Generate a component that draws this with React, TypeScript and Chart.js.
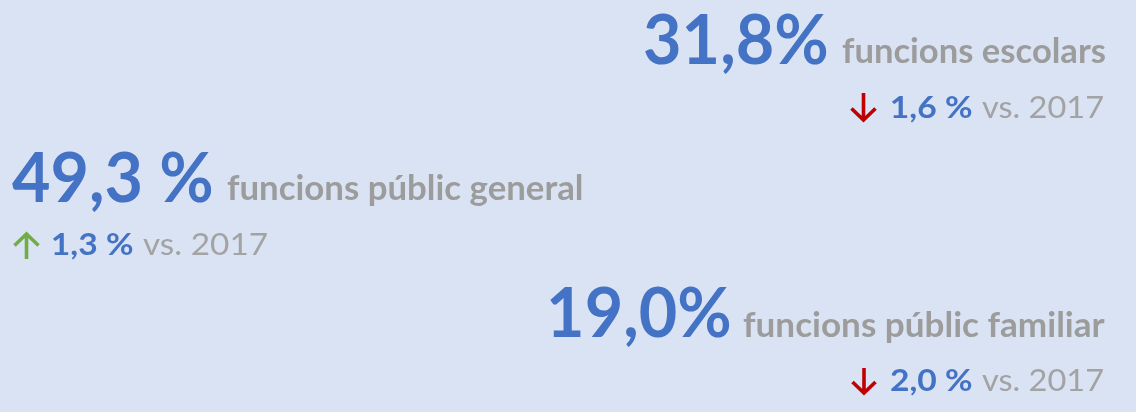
import React, { useEffect, useRef } from "react";
import { Chart, registerables } from "chart.js";

Chart.register(...registerables);

// ---- data ----
const categories = ["funcions escolars", "funcions públic general", "funcions públic familiar"];
const shares = [31.8, 49.3, 19.0];
const shareSeparators = ["", " ", ""];
const changes = [-1.6, 1.3, -2.0];
const compareYear = 2017;

// ---- layout (pixel boxes of each block) ----
const W = 1136;
const H = 412;
const BG = "#DAE3F3";
const BLUE = "#4472C4";
const GREY_B = "#9C9C9C";
const GREY_R = "#A3A3A3";
const UP = "#70AD47";
const DOWN = "#C00000";
const FONT = "Lato, 'Open Sans', sans-serif";

const layout = [
  { big: [645, 827], label: [842, 1105], base: 64, lbase: 63, arrow: [850, 877, 93, 122], chg: [892, 972], vs: [982, 1103], base2: 118 },
  { big: [12, 212], label: [227, 582], base: 202, lbase: 200, arrow: [13, 40, 232, 259], chg: [53, 133], vs: [143, 267], base2: 255 },
  { big: [550, 730], label: [743, 1105], base: 337, lbase: 337, arrow: [851, 877, 368, 395], chg: [891, 972], vs: [982, 1103], base2: 391 },
];

const fmt = (v: number) => Math.abs(v).toFixed(1).replace(".", ",");

function fitText(ctx: CanvasRenderingContext2D, text: string, font: string, left: number, right: number, baseline: number, color: string) {
  ctx.save();
  ctx.font = font;
  ctx.textAlign = "left";
  ctx.textBaseline = "alphabetic";
  const m = ctx.measureText(text);
  const inkL = -m.actualBoundingBoxLeft;
  const inkR = m.actualBoundingBoxRight;
  const sx = (right - left) / (inkR - inkL);
  ctx.translate(left - inkL * sx, baseline);
  ctx.scale(sx, 1);
  ctx.fillStyle = color;
  ctx.fillText(text, 0, 0);
  ctx.restore();
}

function drawArrow(ctx: CanvasRenderingContext2D, box: number[], up: boolean, color: string) {
  const [l, r, t, b] = box;
  const cx = (l + r) / 2;
  const head = (r - l) / 2 - 1.5;
  ctx.save();
  ctx.strokeStyle = color;
  ctx.lineWidth = 3.6;
  ctx.lineCap = "butt";
  ctx.lineJoin = "miter";
  ctx.beginPath();
  if (up) {
    ctx.moveTo(cx, b);
    ctx.lineTo(cx, t + 2);
    ctx.moveTo(l + 1.5, t + head + 1.5);
    ctx.lineTo(cx, t + 2);
    ctx.lineTo(r - 1.5, t + head + 1.5);
  } else {
    ctx.moveTo(cx, t);
    ctx.lineTo(cx, b - 2);
    ctx.moveTo(l + 1.5, b - head - 1.5);
    ctx.lineTo(cx, b - 2);
    ctx.lineTo(r - 1.5, b - head - 1.5);
  }
  ctx.stroke();
  ctx.restore();
}

const textPlugin = {
  id: "kpiText",
  afterDraw(chart: any) {
    const ctx: CanvasRenderingContext2D = chart.ctx;
    const xs = chart.scales.x;
    const ys = chart.scales.y;
    const X = (v: number) => xs.getPixelForValue(v);
    const Y = (v: number) => ys.getPixelForValue(v);
    shares.forEach((v, i) => {
      const L = layout[i];
      const bigText = fmt(v) + shareSeparators[i] + "%";
      fitText(ctx, bigText, `bold 68px ${FONT}`, X(L.big[0]), X(L.big[1]), Y(L.base), BLUE);
      fitText(ctx, categories[i], `bold 34px ${FONT}`, X(L.label[0]), X(L.label[1]), Y(L.lbase), GREY_B);
      const up = changes[i] >= 0;
      drawArrow(ctx, [X(L.arrow[0]), X(L.arrow[1]), Y(L.arrow[2]), Y(L.arrow[3])], up, up ? UP : DOWN);
      fitText(ctx, fmt(changes[i]) + " %", `bold 31px ${FONT}`, X(L.chg[0]), X(L.chg[1]), Y(L.base2), BLUE);
      fitText(ctx, "vs. " + compareYear, `31px ${FONT}`, X(L.vs[0]), X(L.vs[1]), Y(L.base2), GREY_R);
    });
  },
};

export default function App() {
  const ref = useRef<HTMLCanvasElement | null>(null);
  useEffect(() => {
    document.body.style.margin = "0";
    document.body.style.background = BG;
    let chart: Chart | null = null;
    let cancelled = false;
    const make = () => {
      if (cancelled || !ref.current) return;
      chart = new Chart(ref.current, {
        type: "scatter",
        data: { datasets: [{ data: [] }] },
        options: {
          responsive: false,
          animation: false,
          layout: { padding: 0 },
          plugins: { legend: { display: false }, tooltip: { enabled: false } },
          scales: {
            x: { type: "linear", display: false, min: 0, max: W },
            y: { type: "linear", display: false, min: 0, max: H, reverse: true },
          },
        },
        plugins: [textPlugin],
      });
    };
    const fonts: any = (document as any).fonts;
    if (fonts && fonts.load) {
      Promise.all([fonts.load(`bold 68px Lato`), fonts.load(`31px Lato`)]).then(make, make);
    } else make();
    return () => {
      cancelled = true;
      if (chart) chart.destroy();
    };
  }, []);
  return (
    <div style={{ position: "absolute", left: 0, top: 0, width: W, height: H, background: BG }}>
      <canvas ref={ref} width={W} height={H} style={{ display: "block", width: W, height: H }} />
    </div>
  );
}
